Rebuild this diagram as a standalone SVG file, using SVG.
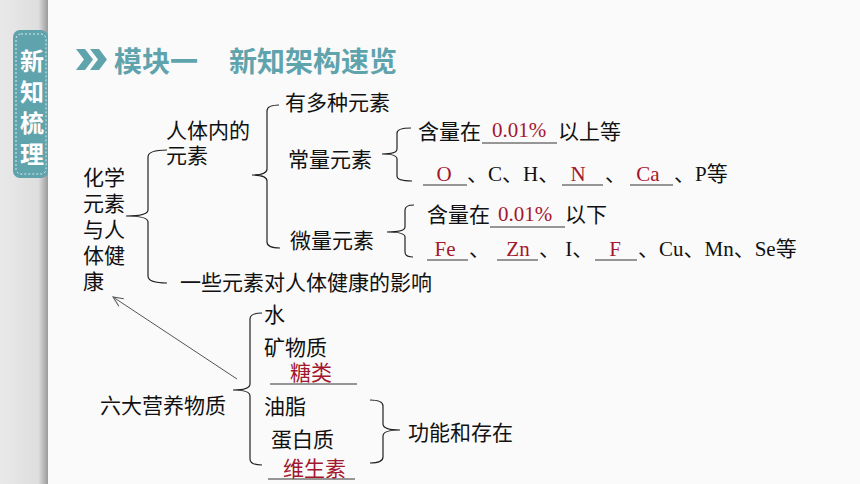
<svg xmlns="http://www.w3.org/2000/svg" width="860" height="484" viewBox="0 0 860 484">
<defs>
<linearGradient id="shade" x1="0" x2="1" y1="0" y2="0">
<stop offset="0" stop-color="#e9e9e9"/>
<stop offset="0.8" stop-color="#dedede"/>
<stop offset="1" stop-color="#9a9a9a"/>
</linearGradient>
<marker id="arr" markerWidth="12" markerHeight="10" refX="1" refY="5" orient="auto" markerUnits="userSpaceOnUse">
<path d="M11,0.5 L1,5 L11,9.5" fill="none" stroke="#555" stroke-width="1"/>
</marker>
<style>
.t{font-family:"Noto Sans CJK SC","Noto Sans",sans-serif;font-size:21px;fill:#111}
.s{font-family:"Liberation Serif","Noto Sans CJK SC",serif;font-size:21px;fill:#111}
.r{font-family:"Liberation Serif","Noto Sans CJK SC",serif;font-size:21px;fill:#a3172f;text-anchor:middle}
.rc{font-family:"Noto Sans CJK SC",sans-serif;font-size:21px;fill:#a3172f}
.br{fill:none;stroke:#222;stroke-width:1.2}
.ul{stroke:#333;stroke-width:1}
</style>
</defs>
<rect x="0" y="0" width="860" height="484" fill="#fafafa"/>
<rect x="0" y="0" width="48" height="484" fill="url(#shade)"/>
<g id="tab">
<rect x="13" y="30" width="35" height="148" rx="7" fill="#5fa3ad"/>
<rect x="16" y="34" width="30" height="140" rx="5" fill="none" stroke="#ffffff" stroke-width="0.8" stroke-dasharray="2 2"/>
<text x="32" y="49" writing-mode="tb" letter-spacing="7" font-family="Noto Sans CJK SC,sans-serif" font-size="24" font-weight="bold" fill="#ffffff">新知梳理</text>
</g>
<g id="title">
<path d="M76,49 L85,49 L93,59.5 L85,70 L76,70 L84,59.5 Z" fill="#5fa3ad"/>
<path d="M90,49 L99,49 L107,59.5 L99,70 L90,70 L98,59.5 Z" fill="#5fa3ad"/>
<text x="114" y="72" font-family="Noto Sans CJK SC,sans-serif" font-size="28" font-weight="bold" fill="#5fa3ad">模块一</text>
<text x="229" y="72" font-family="Noto Sans CJK SC,sans-serif" font-size="28" font-weight="bold" fill="#5fa3ad">新知架构速览</text>
</g>
<g id="connectors">
<path class="br" d="M167,150 Q148,150 148,157 L148,210 Q148,216 126,216 Q148,216 148,222 L148,276 Q148,283 167,283"/>
<path class="br" d="M279,105 Q267,105 267,111 L267,169 Q267,175 252,175 Q267,175 267,181 L267,242 Q267,248 280,248"/>
<path class="br" d="M411,128 Q397,128 397,133 L397,149 Q397,154 382,154 Q397,154 397,159 L397,176 Q397,181 412,181"/>
<path class="br" d="M414,205 Q405,205 405,210 L405,227 Q405,232 387,232 Q405,232 405,237 L405,252 Q405,257 413,257"/>
<path class="br" d="M262,313 Q250,313 250,319 L250,384 Q250,390 233,390 Q250,390 250,396 L250,459 Q250,465 262,465"/>
<path class="br" d="M370,400 Q383,400 383,406 L383,424 Q383,430 400,430 Q383,430 383,436 L383,457 Q383,463 370,463"/>
<line x1="113" y1="297" x2="237" y2="379" stroke="#555" stroke-width="1" marker-start="url(#arr)"/>
</g>
<g id="root">
<text class="t" x="83" y="185"><tspan x="83" y="185">化学</tspan><tspan x="83" y="211">元素</tspan><tspan x="83" y="237">与人</tspan><tspan x="83" y="263">体健</tspan><tspan x="83" y="289">康</tspan></text>
</g>
<g id="body-elements">
<text class="t" x="166" y="138"><tspan x="166" y="138">人体内的</tspan><tspan x="166" y="163">元素</tspan></text>
</g>
<g id="many"><text class="t" x="285" y="110">有多种元素</text></g>
<g id="macro"><text class="t" x="288" y="167">常量元素</text></g>
<g id="micro"><text class="t" x="290" y="248">微量元素</text></g>
<g id="influence"><text class="t" x="180" y="290">一些元素对人体健康的影响</text></g>
<g id="macro-content">
<text class="t" x="418" y="139">含量在</text>
<line class="ul" x1="482" y1="143" x2="557" y2="143"/>
<text class="r" x="519" y="137">0.01%</text>
<text class="t" x="558" y="139">以上等</text>
<line class="ul" x1="423" y1="185" x2="467" y2="185"/>
<text class="r" x="444" y="181">O</text>
<text class="s" x="467" y="181">、C、H、</text>
<line class="ul" x1="562" y1="185" x2="603" y2="185"/>
<text class="r" x="578" y="181">N</text>
<text class="s" x="605" y="181">、</text>
<line class="ul" x1="630" y1="185" x2="673" y2="185"/>
<text class="r" x="648" y="181">Ca</text>
<text class="s" x="674" y="181">、P等</text>
</g>
<g id="micro-content">
<text class="t" x="427" y="222">含量在</text>
<line class="ul" x1="490" y1="227" x2="565" y2="227"/>
<text class="r" x="525" y="221">0.01%</text>
<text class="t" x="565" y="222">以下</text>
<line class="ul" x1="427" y1="260" x2="468" y2="260"/>
<text class="r" x="445" y="256">Fe</text>
<text class="s" x="469" y="256">、</text>
<line class="ul" x1="497" y1="260" x2="538" y2="260"/>
<text class="r" x="518" y="256">Zn</text>
<text class="s" x="539" y="256">、 I、</text>
<line class="ul" x1="595" y1="260" x2="637" y2="260"/>
<text class="r" x="615" y="256">F</text>
<text class="s" x="638" y="256">、Cu、Mn、Se等</text>
</g>
<g id="nutrients"><text class="t" x="100" y="413">六大营养物质</text></g>
<g id="water"><text class="t" x="264" y="322">水</text></g>
<g id="minerals"><text class="t" x="264" y="355">矿物质</text></g>
<g id="sugar">
<line class="ul" x1="270" y1="384" x2="357" y2="384"/>
<text class="rc" x="290" y="380">糖类</text>
</g>
<g id="fat"><text class="t" x="264" y="414">油脂</text></g>
<g id="protein"><text class="t" x="271" y="447">蛋白质</text></g>
<g id="vitamin">
<line class="ul" x1="268" y1="479" x2="355" y2="479"/>
<text class="rc" x="283" y="476">维生素</text>
</g>
<g id="function"><text class="t" x="408" y="440">功能和存在</text></g>
</svg>
